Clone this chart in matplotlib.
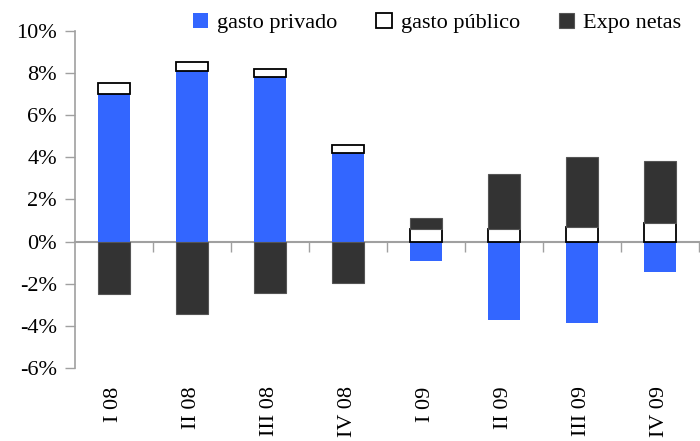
import matplotlib
matplotlib.use("Agg")

import matplotlib.pyplot as plt
import numpy as np

# quarter labels and contributions (percentage points)
quarters = ["I 08", "II 08", "III 08", "IV 08", "I 09", "II 09", "III 09", "IV 09"]
gasto_privado = [7.0, 8.1, 7.8, 4.2, -0.9, -3.7, -3.85, -1.45]
gasto_publico = [0.5, 0.4, 0.4, 0.4, 0.6, 0.6, 0.7, 0.9]
expo_netas = [-2.5, -3.45, -2.45, -1.95, 0.5, 2.6, 3.3, 2.9]

BLUE = "#3366ff"
DARK = "#333333"
GREY = "#a0a0a0"

plt.rcParams["font.family"] = ["Liberation Serif", "DejaVu Serif"]
plt.rcParams["font.size"] = 16

fig = plt.figure(figsize=(7.0, 4.41), dpi=100)
ax = fig.add_axes([0.107, 0.165, 0.8915, 0.7655])

x = np.arange(len(quarters))
w = 0.42

# stack positives upward and negatives downward separately
pos_base = np.zeros(len(x))
neg_base = np.zeros(len(x))
series = [
    (gasto_privado, "gasto privado", dict(color=BLUE, edgecolor="none")),
    (gasto_publico, "gasto público", dict(color="white", edgecolor="black", linewidth=1.3)),
    (expo_netas, "Expo netas", dict(color=DARK, edgecolor="#555555", linewidth=0.8)),
]
for vals, label, style in series:
    v = np.asarray(vals, dtype=float)
    base = np.where(v >= 0, pos_base, neg_base)
    ax.bar(x, v, w, bottom=base, label=label, zorder=3, **style)
    pos_base = pos_base + np.where(v >= 0, v, 0)
    neg_base = neg_base + np.where(v < 0, v, 0)

ax.set_xlim(-0.5, len(x) - 0.5)
ax.set_ylim(-6, 10)
ax.set_yticks(np.arange(-6, 11, 2))
ax.set_yticklabels([f"{t}%" for t in range(-6, 11, 2)])

ax.set_xticks(x)
ax.set_xticklabels(quarters, rotation=90)
ax.tick_params(axis="x", length=0, pad=13)
ax.tick_params(axis="y", direction="out", length=7, width=1, color=GREY, pad=6)

for s in ("top", "right", "bottom"):
    ax.spines[s].set_visible(False)
ax.spines["left"].set_color(GREY)
ax.spines["left"].set_linewidth(1.2)

# zero line with category separators
sec = ax.secondary_xaxis(0, transform=ax.transData)
sec.set_xticks(np.arange(0.5, len(x), 1.0))
sec.set_xticklabels([])
sec.tick_params(direction="out", length=7, width=1, color=GREY)
sec.spines["bottom"].set_color(GREY)
sec.spines["bottom"].set_linewidth(1.5)

fig.legend(loc="center right", bbox_to_anchor=(0.989, 1 - 23 / 441), ncol=3,
           frameon=False, borderpad=0, handlelength=0.7, handleheight=0.7,
           handletextpad=0.4, columnspacing=1.75)

fig.savefig("out.png", dpi=100)
